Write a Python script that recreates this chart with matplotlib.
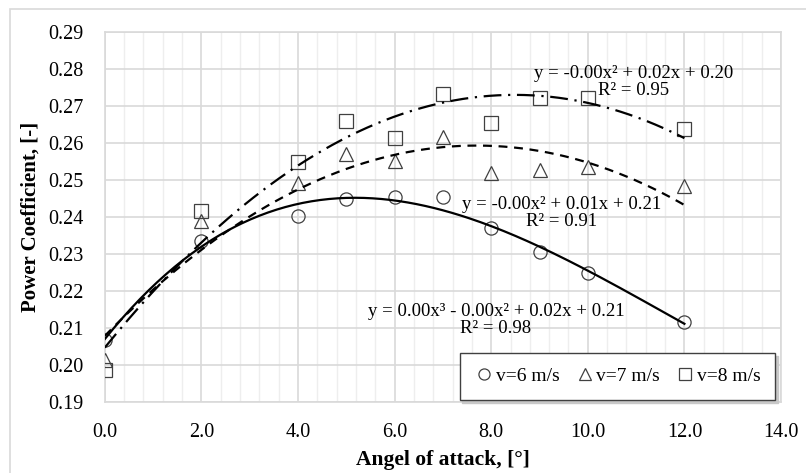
import matplotlib.pyplot as plt
import numpy as np
from matplotlib.lines import Line2D
from matplotlib.patches import Rectangle

plt.rcParams['font.family'] = ['Liberation Serif', 'DejaVu Serif']

# angle of attack, degrees
angle = [0, 2, 4, 5, 6, 7, 8, 9, 10, 12]

# power coefficient for each wind speed
cp_v6 = [0.2067, 0.2335, 0.2402, 0.2447, 0.2454, 0.2452, 0.2369, 0.2304, 0.2247, 0.2116]
cp_v7 = [0.2013, 0.2388, 0.2492, 0.2569, 0.2551, 0.2616, 0.2519, 0.2526, 0.2535, 0.2484]
cp_v8 = [0.1986, 0.2416, 0.2547, 0.2659, 0.2614, 0.2731, 0.2652, 0.2720, 0.2720, 0.2636]

labels = ['v=6 m/s', 'v=7 m/s', 'v=8 m/s']
fit_texts = ['y = 0.00x³ - 0.00x² + 0.02x + 0.21\nR² = 0.98',
             'y = -0.00x² + 0.01x + 0.21\nR² = 0.91',
             'y = -0.00x² + 0.02x + 0.20\nR² = 0.95']
fit_pos = [(8.1, 0.2122), (9.45, 0.2411), (10.94, 0.2763)]

fig = plt.figure(figsize=(8.06, 4.73), dpi=100)
ax = fig.add_axes([0.130, 0.1507, 0.839, 0.7823])

# outer chart border
fig.patches.append(Rectangle((10 / 806, -0.05), 1.0, (473 - 9) / 473 + 0.05,
                             transform=fig.transFigure, fill=False,
                             edgecolor='#d9d9d9', linewidth=1.2))

series = [cp_v6, cp_v7, cp_v8]
markers = ['o', '^', 's']
degrees = [3, 2, 2]
styles = ['-', (0, (4, 3)), (0, (8, 3, 1, 3))]
marker_col = '#404040'

xs = np.linspace(0, 12, 200)
for y, m, deg, ls in zip(series, markers, degrees, styles):
    ax.plot(angle, y, linestyle='none', marker=m, markersize=9.5 if m != '^' else 10,
            markerfacecolor='none', markeredgecolor=marker_col, markeredgewidth=0.9, zorder=3)
    coef = np.polyfit(angle, y, deg)
    ax.plot(xs, np.polyval(coef, xs), color='black', linestyle=ls, linewidth=1.6, zorder=4)

for txt, (tx, ty) in zip(fit_texts, fit_pos):
    ax.text(tx, ty, txt, ha='center', va='center', multialignment='center',
            fontsize=13.5, linespacing=1.0, zorder=5)

ax.set_xlim(0, 14)
ax.set_ylim(0.19, 0.29)
ax.set_xticks(np.arange(0, 14.1, 2))
ax.set_xticks(np.arange(0, 14.01, 0.4), minor=True)
ax.set_yticks(np.arange(0.19, 0.2901, 0.01))
ax.xaxis.set_major_formatter(plt.FuncFormatter(lambda v, p: f'{v:.1f}'))
ax.yaxis.set_major_formatter(plt.FuncFormatter(lambda v, p: f'{v:.2f}'))
ax.grid(True, which='major', color='#d9d9d9', linewidth=1.2, zorder=0)
ax.grid(True, which='minor', axis='x', color='#eeeeee', linewidth=1.0, zorder=0)
ax.set_axisbelow(True)
ax.tick_params(which='both', length=0, labelsize=14.5)
ax.tick_params(axis='y', pad=15)
ax.tick_params(axis='x', pad=15)
for s in ax.spines.values():
    s.set_color('#d9d9d9')
    s.set_linewidth(1.2)

ax.set_xlabel('Angel of attack, [°]', fontsize=15.5, fontweight='bold', labelpad=6)
ax.set_ylabel('Power Coefficient, [-]', fontsize=15, fontweight='bold', labelpad=6)

handles = [Line2D([], [], linestyle='none', marker=m, markersize=8,
                  markerfacecolor='none', markeredgecolor=marker_col, markeredgewidth=0.9)
           for m in markers]
leg = ax.legend(handles, labels, ncol=3, loc='lower right', bbox_to_anchor=(0.9915, 0.005),
                borderaxespad=0, fontsize=14, frameon=True, fancybox=False,
                handletextpad=0.1, columnspacing=0.8, handlelength=1.0, borderpad=0.75,
                shadow={'color': '#c8c8c8', 'alpha': 1})
leg.get_frame().set_edgecolor('#404040')
leg.get_frame().set_linewidth(1.0)

fig.savefig('out.png', dpi=100)
